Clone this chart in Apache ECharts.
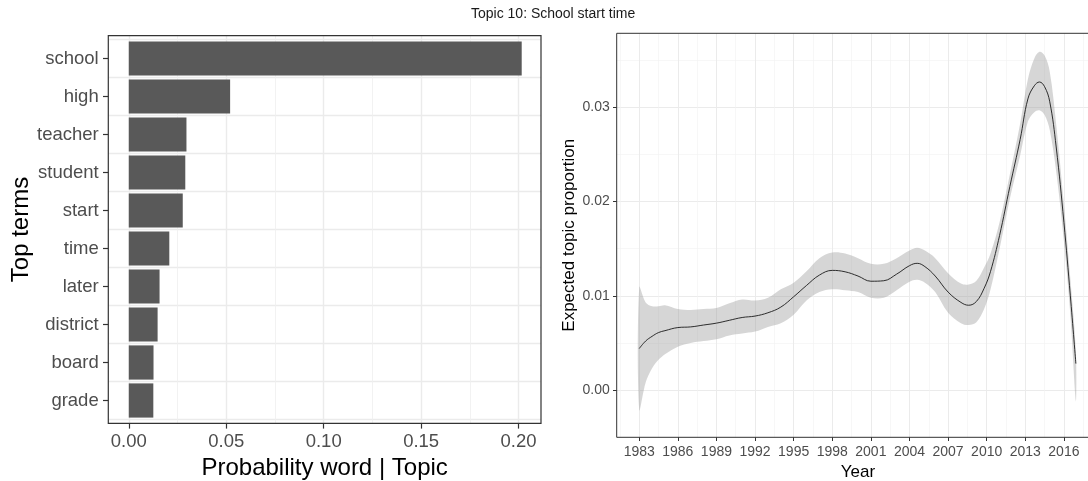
<!DOCTYPE html>
<html>
<head>
<meta charset="utf-8">
<script src="https://cdn.jsdelivr.net/npm/echarts@6/dist/echarts.min.js"></script>
<style>
html,body{margin:0;padding:0;background:#fff;}
#c{width:1088px;height:481px;}
</style>
</head>
<body>
<div id="c"></div>
<script>
// ---- Left panel data ----
const categories = ['school','high','teacher','student','start','time','later','district','board','grade'];
const probs = [0.2016, 0.0520, 0.0296, 0.0290, 0.0277, 0.0208, 0.0158, 0.0148, 0.0127, 0.0126];
const probTicks = [0, 0.05, 0.10, 0.15, 0.20];
const probMinor = [0.025, 0.075, 0.125, 0.175];

// ---- Right panel data ----
const years = [1983, 1983.5, 1984, 1984.5, 1985, 1986, 1987, 1988, 1989, 1990, 1991, 1992, 1993, 1994, 1995, 1996, 1997, 1998, 1999, 2000, 2001, 2002, 2003, 2004, 2004.6, 2005.2, 2006, 2007, 2008, 2008.6, 2009.2, 2009.8, 2010.3, 2011, 2011.8, 2012.6, 2013.2, 2013.7, 2014.1, 2014.5, 2014.9, 2015.4, 2016, 2016.5, 2016.93];
const meanProp = [0.0044, 0.0052, 0.0057, 0.0061, 0.0063, 0.00663, 0.0067, 0.0069, 0.0071, 0.0074, 0.0077, 0.00785, 0.0082, 0.0088, 0.0099, 0.0111, 0.0122, 0.0127, 0.01255, 0.0121, 0.01155, 0.0116, 0.0123, 0.0132, 0.01345, 0.0131, 0.0121, 0.0104, 0.0093, 0.0090, 0.0094, 0.0108, 0.0126, 0.0164, 0.0216, 0.0266, 0.0309, 0.0323, 0.0327, 0.0322, 0.0306, 0.0258, 0.0178, 0.0100, 0.0028];
const upperProp = [0.0109, 0.0093, 0.0089, 0.0089, 0.0090, 0.0086, 0.0085, 0.0086, 0.0087, 0.0092, 0.0096, 0.0095, 0.0098, 0.0107, 0.0114, 0.0126, 0.0140, 0.0146, 0.0145, 0.0140, 0.0134, 0.0134, 0.0140, 0.0148, 0.0151, 0.0148, 0.0140, 0.0124, 0.0113, 0.0112, 0.0116, 0.0130, 0.0145, 0.0178, 0.0229, 0.0283, 0.0330, 0.0352, 0.0359, 0.0355, 0.0338, 0.0282, 0.0197, 0.0118, 0.0040];
const lowerProp = [-0.0021, 0.0008, 0.0023, 0.0032, 0.0038, 0.0046, 0.0050, 0.0052, 0.0054, 0.0058, 0.0060, 0.0062, 0.0067, 0.0071, 0.0080, 0.0095, 0.0104, 0.0107, 0.0106, 0.0104, 0.0098, 0.0098, 0.0106, 0.0115, 0.0117, 0.0114, 0.0104, 0.0082, 0.0071, 0.0069, 0.0072, 0.0086, 0.0107, 0.0150, 0.0203, 0.0249, 0.0285, 0.0295, 0.0297, 0.0292, 0.0276, 0.0232, 0.0158, 0.0080, -0.0012];
const yearTicks = [1983, 1986, 1989, 1992, 1995, 1998, 2001, 2004, 2007, 2010, 2013, 2016];
const yearMinor = [1981.5, 1984.5, 1987.5, 1990.5, 1993.5, 1996.5, 1999.5, 2002.5, 2005.5, 2008.5, 2011.5, 2014.5, 2017.5];
const propTicks = [0, 0.01, 0.02, 0.03];
const propMinor = [-0.005, 0.005, 0.015, 0.025, 0.035];

const FONT = "'Liberation Sans', Arial, sans-serif";
const chart = echarts.init(document.getElementById('c'), null, {renderer: 'canvas'});

const noLine = {show: false, onZero: false};
function minorAxis(extra) {
  return Object.assign({
    type: 'value', axisLine: noLine, axisLabel: {show: false}, axisPointer: {show: false}
  }, extra);
}

const option = {
  animation: false,
  backgroundColor: '#ffffff',
  textStyle: {fontFamily: FONT},
  title: {
    text: 'Topic 10: School start time',
    left: 471, top: 7.5, padding: 0,
    textStyle: {fontFamily: FONT, fontSize: 14, fontWeight: 'normal', color: '#1a1a1a'}
  },
  grid: [
    {left: 108.3, top: 35.7, width: 432.7, height: 387.6, show: true, borderColor: '#333333', borderWidth: 1.2, backgroundColor: 'transparent', outerBoundsMode: 'none', containLabel: false, z: 5},
    {left: 108.3, top: 39.5, width: 432.7, height: 380.0, outerBoundsMode: 'none', containLabel: false},
    {left: 616.7, top: 33.3, width: 482.6, height: 404.0, show: true, borderColor: '#333333', borderWidth: 1, backgroundColor: 'transparent', outerBoundsMode: 'none', containLabel: false, z: 5}
  ],
  xAxis: [
    {
      type: 'value', gridIndex: 0, min: -0.0105, max: 0.2115,
      axisLine: noLine,
      axisTick: {show: true, length: 5.3, customValues: probTicks, lineStyle: {color: '#333333', width: 1.2}},
      axisLabel: {customValues: probTicks, formatter: v => v.toFixed(2), color: '#4D4D4D', fontSize: 18.5, fontFamily: FONT, margin: 9},
      splitLine: {show: true, lineStyle: {color: '#EBEBEB', width: 1.4}},
      name: 'Probability word | Topic', nameLocation: 'middle', nameGap: 32,
      nameTextStyle: {color: '#000000', fontSize: 24, fontFamily: FONT}
    },
    minorAxis({gridIndex: 0, min: -0.0105, max: 0.2115,
      axisTick: {show: false, customValues: probMinor},
      axisLabel: {show: false, customValues: probMinor},
      splitLine: {show: true, lineStyle: {color: '#EFEFEF', width: 0.8}}}),
    {type: 'value', gridIndex: 1, min: -0.0105, max: 0.2115, show: false, axisLine: noLine, splitLine: {show: false}},
    {
      type: 'value', gridIndex: 2, min: 1981.25, max: 2018.75,
      axisLine: noLine,
      axisTick: {show: true, length: 3.7, customValues: yearTicks, lineStyle: {color: '#333333', width: 1}},
      axisLabel: {customValues: yearTicks, formatter: v => String(v), color: '#4D4D4D', fontSize: 14, fontFamily: FONT, margin: 8},
      splitLine: {show: true, lineStyle: {color: '#EBEBEB', width: 1}},
      name: 'Year', nameLocation: 'middle', nameGap: 24,
      nameTextStyle: {color: '#000000', fontSize: 17, fontFamily: FONT}
    },
    minorAxis({gridIndex: 2, min: 1981.25, max: 2018.75,
      axisTick: {show: false, customValues: yearMinor},
      axisLabel: {show: false, customValues: yearMinor},
      splitLine: {show: true, lineStyle: {color: '#F2F2F2', width: 0.6}}})
  ],
  yAxis: [
    {type: 'value', gridIndex: 0, min: 0, max: 1, show: false, axisLine: noLine, splitLine: {show: false}},
    {
      type: 'category', gridIndex: 1, data: categories, inverse: true,
      axisLine: noLine,
      axisTick: {show: true, alignWithLabel: true, length: 5.3, lineStyle: {color: '#333333', width: 1.2}},
      axisLabel: {interval: 0, color: '#4D4D4D', fontSize: 18.5, fontFamily: FONT, margin: 9.6},
      splitLine: {show: false},
      name: 'Top terms', nameLocation: 'middle', nameGap: 68, nameRotate: 90,
      nameTextStyle: {color: '#000000', fontSize: 24, fontFamily: FONT}
    },
    minorAxis({gridIndex: 1, min: -0.5, max: 9.5, interval: 1,
      axisTick: {show: false},
      splitLine: {show: true, lineStyle: {color: '#EBEBEB', width: 1.4}}}),
    {
      type: 'value', gridIndex: 2, min: -0.00502, max: 0.03787,
      axisLine: noLine,
      axisTick: {show: true, length: 3.7, customValues: propTicks, lineStyle: {color: '#333333', width: 1}},
      axisLabel: {customValues: propTicks, formatter: v => v.toFixed(2), color: '#4D4D4D', fontSize: 14, fontFamily: FONT, margin: 7},
      splitLine: {show: true, lineStyle: {color: '#EBEBEB', width: 1}},
      name: 'Expected topic proportion', nameLocation: 'middle', nameGap: 38.5, nameRotate: 90,
      nameTextStyle: {color: '#000000', fontSize: 17, fontFamily: FONT}
    },
    minorAxis({gridIndex: 2, min: -0.00502, max: 0.03787,
      axisTick: {show: false, customValues: propMinor},
      axisLabel: {show: false, customValues: propMinor},
      splitLine: {show: true, lineStyle: {color: '#F2F2F2', width: 0.6}}})
  ],
  series: [
    {
      type: 'bar', xAxisIndex: 2, yAxisIndex: 1, data: probs,
      barWidth: '90%', itemStyle: {color: '#595959'}, silent: true
    },
    {
      // confidence band drawn as one polygon through the axis scales
      type: 'custom', xAxisIndex: 3, yAxisIndex: 3, clip: true, silent: true,
      data: [[years[0], meanProp[0]]],
      encode: {x: 0, y: 1},
      renderItem: function (params, api) {
        const pts = [];
        for (let i = 0; i < years.length; i++) pts.push(api.coord([years[i], upperProp[i]]));
        for (let i = years.length - 1; i >= 0; i--) pts.push(api.coord([years[i], lowerProp[i]]));
        return {
          type: 'polygon',
          shape: {points: pts, smooth: 0.35},
          style: {fill: 'rgba(153,153,153,0.4)', stroke: null}
        };
      }
    },
    {
      type: 'line', xAxisIndex: 3, yAxisIndex: 3,
      data: years.map((y, i) => [y, meanProp[i]]),
      symbol: 'none', smooth: 0.4, lineStyle: {color: '#1a1a1a', width: 0.9}, silent: true
    }
  ]
};
chart.setOption(option);
</script>
</body>
</html>
